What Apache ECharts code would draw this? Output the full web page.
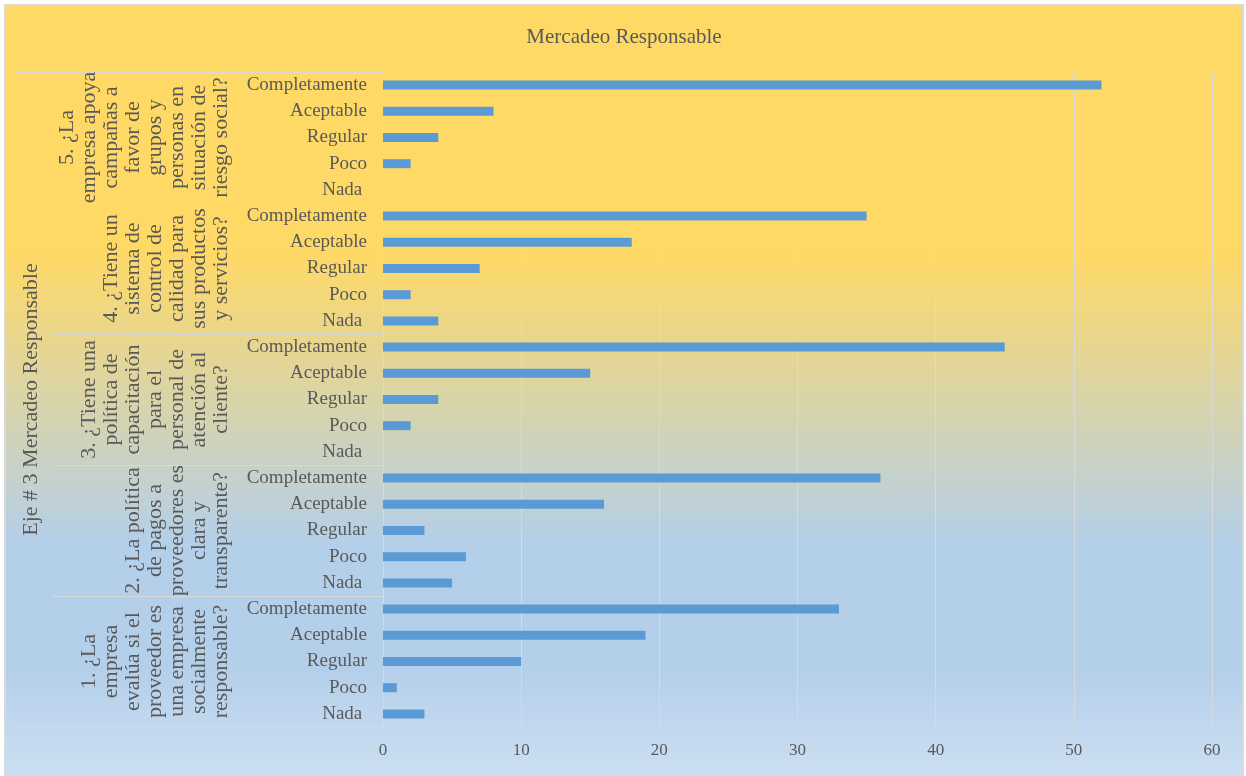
<!DOCTYPE html>
<html>
<head>
<meta charset="utf-8">
<script src="https://cdn.jsdelivr.net/npm/echarts@6/dist/echarts.min.js"></script>
<style>
html,body{margin:0;padding:0;background:#fff;width:1246px;height:776px;overflow:hidden;}
#c{position:absolute;left:6px;top:6px;width:1236px;height:770px;outline:2px solid #D9D9D9;}
</style>
</head>
<body>
<div id="c"></div>
<script>
// Data (top to bottom)
const questions = [
  "5. ¿La\nempresa apoya\ncampañas a\nfavor de\ngrupos y\npersonas en\nsituación de\nriesgo social?",
  "4. ¿Tiene un\nsistema de\ncontrol de\ncalidad para\nsus productos\ny servicios?",
  "3. ¿Tiene una\npolítica de\ncapacitación\npara el\npersonal de\natención al\ncliente?",
  "2. ¿La política\nde pagos a\nproveedores es\nclara y\ntransparente?",
  "1. ¿La\nempresa\nevalúa si el\nproveedor es\nuna empresa\nsocialmente\nresponsable?"
];
const answers = ["Completamente", "Aceptable", "Regular", "Poco", "Nada "];
const values_q5 = [52, 8, 4, 2, 0];
const values_q4 = [35, 18, 7, 2, 4];
const values_q3 = [45, 15, 4, 2, 0];
const values_q2 = [36, 16, 3, 6, 5];
const values_q1 = [33, 19, 10, 1, 3];
const axisTitle = "Eje # 3 Mercadeo Responsable";
const chartTitle = "Mercadeo Responsable";
const xTicks = [0, 10, 20, 30, 40, 50, 60];

const groups = [values_q5, values_q4, values_q3, values_q2, values_q1];
const catKeys = [];
const catLabels = [];
const barValues = [];
groups.forEach((g, gi) => {
  g.forEach((v, i) => {
    catKeys.push(gi + "_" + i);
    catLabels.push(answers[i]);
    barValues.push(v);
  });
});

const font = "'Liberation Serif', 'Times New Roman', serif";
const textColor = "#595959";
const lineColor = "#D9D9D9";

const chart = echarts.init(document.getElementById('c'), null, {renderer: 'canvas'});
chart.setOption({
  backgroundColor: {
    type: 'linear', x: 0, y: 0, x2: 0, y2: 1,
    colorStops: [
      {offset: 0, color: '#FFD966'},
      {offset: 0.32, color: '#FFD966'},
      {offset: 0.70, color: '#B4CFEA'},
      {offset: 0.86, color: '#B4CFEA'},
      {offset: 1, color: '#CCDFF2'}
    ]
  },
  animation: false,
  title: {
    text: chartTitle,
    left: 'center',
    top: 16,
    textStyle: {fontFamily: font, fontSize: 21, fontWeight: 'normal', color: textColor}
  },
  grid: {left: 377, right: 30, top: 66, bottom: 49, containLabel: false},
  xAxis: {
    type: 'value',
    min: xTicks[0],
    max: xTicks[xTicks.length - 1],
    interval: xTicks[1] - xTicks[0],
    axisLine: {show: false},
    axisTick: {show: false},
    splitLine: {show: true, lineStyle: {color: lineColor, width: 1}},
    axisLabel: {fontFamily: font, fontSize: 17, color: textColor, margin: 15}
  },
  yAxis: [
    {
      type: 'category',
      data: catKeys,
      inverse: true,
      position: 'left',
      axisLine: {show: true, lineStyle: {color: lineColor, width: 1}},
      axisTick: {show: false},
      axisLabel: {
        interval: 0,
        fontFamily: font, fontSize: 19, color: textColor, margin: 16,
        formatter: (v, idx) => catLabels[idx]
      }
    },
    {
      type: 'category',
      data: questions,
      inverse: true,
      position: 'left',
      axisLine: {show: false},
      axisTick: {show: true, interval: 0, length: 330, lineStyle: {color: lineColor, width: 1}},
      axisLabel: {
        interval: 0, rotate: 90, margin: 151,
        fontFamily: font, fontSize: 22, lineHeight: 22, color: textColor, align: 'center'
      }
    },
    {
      type: 'category',
      data: [axisTitle],
      position: 'left',
      axisLine: {show: false},
      axisTick: {show: true, interval: 0, length: 368, lineStyle: {color: lineColor, width: 1}},
      axisLabel: {
        interval: 0, rotate: 90, margin: 341,
        fontFamily: font, fontSize: 22, color: textColor
      }
    }
  ],
  series: [{
    type: 'bar',
    yAxisIndex: 0,
    data: barValues,
    barWidth: 9,
    itemStyle: {color: '#5B9BD5'}
  }]
});
</script>
</body>
</html>
